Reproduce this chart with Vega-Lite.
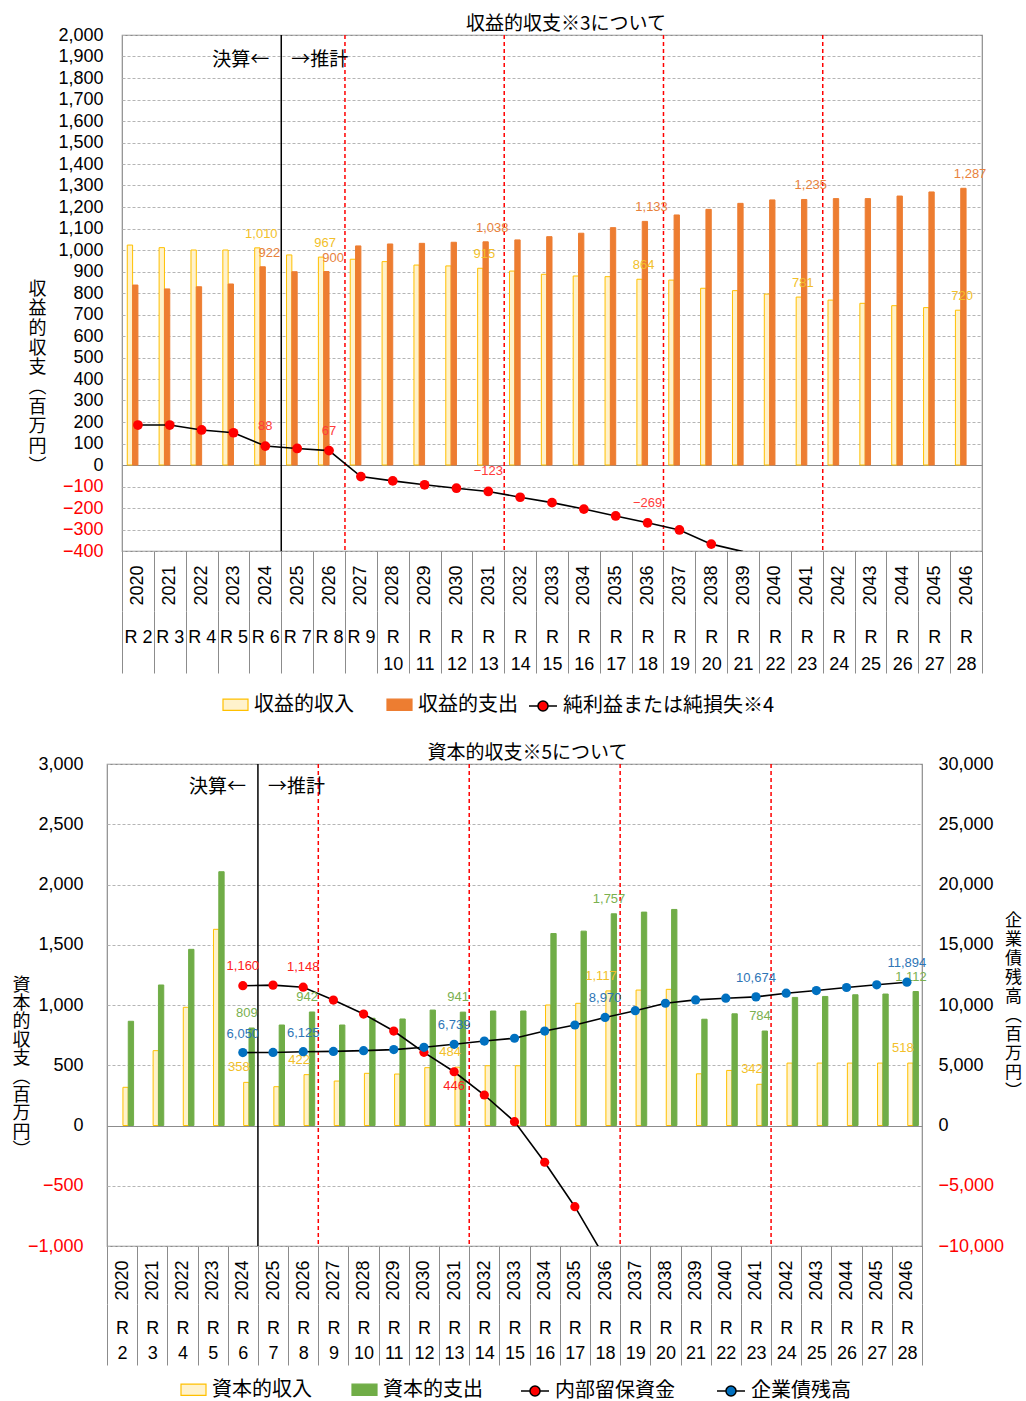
{
  "$schema": "https://vega.github.io/schema/vega-lite/v6.json",
  "background": "white",
  "padding": {"left": 11, "top": 14, "right": 0, "bottom": 0},
  "config": {
    "font": "Liberation Sans, Noto Sans CJK JP",
    "view": {"stroke": "#8c8c8c", "strokeWidth": 1.2},
    "axis": {"labelFont": "Liberation Sans, Noto Sans CJK JP", "titleFont": "Noto Sans CJK JP", "titleColor": "#000000", "titleFontWeight": "normal", "domainColor": "#8c8c8c", "tickColor": "#8c8c8c"},
    "legend": {"labelFont": "Noto Sans CJK JP", "labelFontSize": 20, "labelColor": "#000000", "labelLimit": 400},
    "title": {"font": "Noto Sans CJK JP", "fontSize": 19, "fontWeight": "normal", "color": "#000000"}
  },
  "resolve": {"scale": {"color": "independent", "stroke": "independent", "fill": "independent"}},
  "datasets": {
    "収益": [
      {"年度": 2020, "収益的収入": 1023, "収益的支出": 837, "純利益または純損失※4": 186},
      {"年度": 2021, "収益的収入": 1011, "収益的支出": 819, "純利益または純損失※4": 186},
      {"年度": 2022, "収益的収入": 1000, "収益的支出": 829, "純利益または純損失※4": 163},
      {"年度": 2023, "収益的収入": 1000, "収益的支出": 842, "純利益または純損失※4": 150},
      {"年度": 2024, "収益的収入": 1010, "収益的支出": 922, "純利益または純損失※4": 88},
      {"年度": 2025, "収益的収入": 977, "収益的支出": 899, "純利益または純損失※4": 77},
      {"年度": 2026, "収益的収入": 967, "収益的支出": 900, "純利益または純損失※4": 67},
      {"年度": 2027, "収益的収入": 957, "収益的支出": 1019, "純利益または純損失※4": -54},
      {"年度": 2028, "収益的収入": 946, "収益的支出": 1028, "純利益または純損失※4": -74},
      {"年度": 2029, "収益的収入": 930, "収益的支出": 1031, "純利益または純損失※4": -92},
      {"年度": 2030, "収益的収入": 926, "収益的支出": 1036, "純利益または純損失※4": -108},
      {"年度": 2031, "収益的収入": 915, "収益的支出": 1038, "純利益または純損失※4": -123},
      {"年度": 2032, "収益的収入": 902, "収益的支出": 1047, "純利益または純損失※4": -150},
      {"年度": 2033, "収益的収入": 887, "収益的支出": 1062, "純利益または純損失※4": -175},
      {"年度": 2034, "収益的収入": 879, "収益的支出": 1078, "純利益または純損失※4": -205},
      {"年度": 2035, "収益的収入": 876, "収益的支出": 1104, "純利益または純損失※4": -237},
      {"年度": 2036, "収益的収入": 864, "収益的支出": 1133, "純利益または純損失※4": -269},
      {"年度": 2037, "収益的収入": 860, "収益的支出": 1163, "純利益または純損失※4": -302},
      {"年度": 2038, "収益的収入": 822, "収益的支出": 1189, "純利益または純損失※4": -368},
      {"年度": 2039, "収益的収入": 811, "収益的支出": 1217, "純利益または純損失※4": -403},
      {"年度": 2040, "収益的収入": 795, "収益的支出": 1233, "純利益または純損失※4": null},
      {"年度": 2041, "収益的収入": 781, "収益的支出": 1235, "純利益または純損失※4": null},
      {"年度": 2042, "収益的収入": 767, "収益的支出": 1239, "純利益または純損失※4": null},
      {"年度": 2043, "収益的収入": 752, "収益的支出": 1239, "純利益または純損失※4": null},
      {"年度": 2044, "収益的収入": 741, "収益的支出": 1251, "純利益または純損失※4": null},
      {"年度": 2045, "収益的収入": 732, "収益的支出": 1270, "純利益または純損失※4": null},
      {"年度": 2046, "収益的収入": 720, "収益的支出": 1287, "純利益または純損失※4": null}
    ],
    "資本": [
      {"年度": 2020, "資本的収入": 317, "資本的支出": 865, "内部留保資金": null, "企業債残高": null},
      {"年度": 2021, "資本的収入": 621, "資本的支出": 1166, "内部留保資金": null, "企業債残高": null},
      {"年度": 2022, "資本的収入": 981, "資本的支出": 1462, "内部留保資金": null, "企業債残高": null},
      {"年度": 2023, "資本的収入": 1628, "資本的支出": 2106, "内部留保資金": null, "企業債残高": null},
      {"年度": 2024, "資本的収入": 358, "資本的支出": 809, "内部留保資金": 1160, "企業債残高": 6050},
      {"年度": 2025, "資本的収入": 322, "資本的支出": 834, "内部留保資金": 1165, "企業債残高": 6060},
      {"年度": 2026, "資本的収入": 422, "資本的支出": 942, "内部留保資金": 1148, "企業債残高": 6125},
      {"年度": 2027, "資本的収入": 369, "資本的支出": 834, "内部留保資金": 1041, "企業債残高": 6150},
      {"年度": 2028, "資本的収入": 433, "資本的支出": 890, "内部留保資金": 925, "企業債残高": 6210},
      {"年度": 2029, "資本的収入": 427, "資本的支出": 884, "内部留保資金": 784, "企業債残高": 6300},
      {"年度": 2030, "資本的収入": 480, "資本的支出": 958, "内部留保資金": 607, "企業債残高": 6490},
      {"年度": 2031, "資本的収入": 484, "資本的支出": 941, "内部留保資金": 446, "企業債残高": 6739},
      {"年度": 2032, "資本的収入": 496, "資本的支出": 950, "内部留保資金": 253, "企業債残高": 7010},
      {"年度": 2033, "資本的収入": 496, "資本的支出": 950, "内部留保資金": 32, "企業債残高": 7240},
      {"年度": 2034, "資本的収入": 1000, "資本的支出": 1593, "内部留保資金": -305, "企業債残高": 7840},
      {"年度": 2035, "資本的収入": 1014, "資本的支出": 1613, "内部留保資金": -674, "企業債残高": 8340},
      {"年度": 2036, "資本的収入": 1117, "資本的支出": 1757, "内部留保資金": -1100, "企業債残高": 8970},
      {"年度": 2037, "資本的収入": 1124, "資本的支出": 1771, "内部留保資金": null, "企業債残高": 9530},
      {"年度": 2038, "資本的収入": 1130, "資本的支出": 1793, "内部留保資金": null, "企業債残高": 10146},
      {"年度": 2039, "資本的収入": 429, "資本的支出": 882, "内部留保資金": null, "企業債残高": 10424},
      {"年度": 2040, "資本的収入": 457, "資本的支出": 927, "内部留保資金": null, "企業債残高": 10563},
      {"年度": 2041, "資本的収入": 342, "資本的支出": 784, "内部留保資金": null, "企業債残高": 10674},
      {"年度": 2042, "資本的収入": 518, "資本的支出": 1063, "内部留保資金": null, "企業債残高": 10980},
      {"年度": 2043, "資本的収入": 518, "資本的支出": 1071, "内部留保資金": null, "企業債残高": 11202},
      {"年度": 2044, "資本的収入": 518, "資本的支出": 1085, "内部留保資金": null, "企業債残高": 11452},
      {"年度": 2045, "資本的収入": 518, "資本的支出": 1091, "内部留保資金": null, "企業債残高": 11675},
      {"年度": 2046, "資本的収入": 518, "資本的支出": 1112, "内部留保資金": null, "企業債残高": 11894}
    ]
  },
  "align": "none",
  "spacing": 26,
  "vconcat": [
    {
      "align": "none",
      "spacing": -81,
      "resolve": {"scale": {"color": "independent", "stroke": "independent", "fill": "independent"}},
      "hconcat": [
        {
          "width": 1,
          "height": 10,
          "view": {"stroke": null},
          "data": {"values": []},
          "mark": {"type": "rule", "opacity": 0},
          "encoding": {}
        },
        {
          "title": {"text": "収益的収支※3について", "anchor": "middle", "frame": "group", "offset": -8, "dx": 14},
          "width": 860,
          "height": 516,
          "data": {"name": "収益"},
          "resolve": {"axis": {"x": "independent"}},
          "layer": [
            {
              "transform": [{"fold": ["収益的収入", "収益的支出"], "as": ["系列", "値"]}],
              "mark": {"type": "bar", "strokeWidth": 1},
              "encoding": {
                "x": {"field": "年度", "type": "ordinal", "scale": {"paddingInner": 0, "paddingOuter": 0},
                  "axis": {"title": null, "labelAngle": -90, "labelFontSize": 18, "labelPadding": -46, "tickSize": 60, "tickBand": "extent", "domain": false, "grid": false, "labelOverlap": false}},
                "xOffset": {"field": "系列", "type": "nominal", "scale": {"domain": ["収益的収入", "収益的支出"], "paddingInner": 0, "paddingOuter": 0.99}},
                "y": {"field": "値", "type": "quantitative", "scale": {"domain": [-400, 2000], "nice": false, "zero": false},
                  "axis": {"values": [-400, -300, -200, -100, 0, 100, 200, 300, 400, 500, 600, 700, 800, 900, 1000, 1100, 1200, 1300, 1400, 1500, 1600, 1700, 1800, 1900, 2000],
                    "tickCount": 30, "format": ",d", "labelFontSize": 18, "labelPadding": 19, "labelOverlap": false, "ticks": false, "domain": false, "grid": true,
                    "gridColor": {"condition": {"test": "datum.value === 0", "value": "#8c8c8c"}, "value": "#b5b5b5"},
                    "gridDash": {"condition": {"test": "datum.value === 0", "value": []}, "value": [3, 2]},
                    "labelColor": {"condition": {"test": "datum.value < 0", "value": "#FF0000"}, "value": "#000000"},
                    "title": ["収", "益", "的", "収", "支", "︵", "百", "万", "円", "︶"],
                    "titleAngle": 0, "titleAlign": "center", "titleBaseline": "middle", "titleX": -85, "titleY": 254, "titleFontSize": 18, "titleLineHeight": 19.7}},
                "color": {"field": "系列", "type": "nominal", "scale": {"domain": ["収益的収入", "収益的支出"], "range": ["#FFF2CC", "#ED7D31"]},
                  "legend": {"title": null, "orient": "none", "legendX": 100, "legendY": 656, "direction": "horizontal", "symbolType": "M-1,-0.45L1,-0.45L1,0.45L-1,0.45Z", "symbolSize": 625, "symbolStrokeWidth": 1.2, "symbolOpacity": 1, "labelFontSize": 20, "columnPadding": 30, "labelOffset": 5, "padding": 0}},
                "stroke": {"field": "系列", "type": "nominal", "scale": {"domain": ["収益的収入", "収益的支出"], "range": ["#FFC000", "#ED7D31"]},
                  "legend": {"title": null, "orient": "none", "legendX": 100, "legendY": 656, "direction": "horizontal", "symbolType": "M-1,-0.45L1,-0.45L1,0.45L-1,0.45Z", "symbolSize": 625, "symbolStrokeWidth": 1.2, "symbolOpacity": 1, "labelFontSize": 20, "columnPadding": 30, "labelOffset": 5, "padding": 0}}
              }
            },
            {
              "data": {"values": [{"年度": 2025}]},
              "mark": {"type": "rule", "color": "#000000", "strokeWidth": 1.5},
              "encoding": {
                "x": {"field": "年度", "type": "ordinal", "bandPosition": 0,
                  "axis": {"title": null, "orient": "bottom", "offset": 60, "domain": false, "tickSize": 62, "tickBand": "extent", "labelAngle": 0, "labelAlign": "center", "labelBaseline": "top", "labelPadding": -45, "labelLineHeight": 27, "labelFontSize": 18, "labelOverlap": false, "labelBound": false, "grid": false,
                    "labelExpr": "isNumber(datum.value) ? (datum.value < 2028 ? 'R ' + (datum.value - 2018) : ['R', '' + (datum.value - 2018)]) : ''"}}
              }
            },
            {
              "data": {"values": [{"年度": 2027}, {"年度": 2032}, {"年度": 2037}, {"年度": 2042}]},
              "mark": {"type": "rule", "color": "#FF0000", "strokeWidth": 1.5, "strokeDash": [4, 3]},
              "encoding": {"x": {"field": "年度", "type": "ordinal", "bandPosition": 0, "axis": null}}
            },
            {
              "data": {"values": [{"年度": 2025, "注記": "決算←"}]},
              "mark": {"type": "text", "align": "right", "baseline": "middle", "dx": -12, "font": "Noto Sans CJK JP", "fontSize": 19, "color": "#000000"},
              "encoding": {"x": {"field": "年度", "type": "ordinal", "bandPosition": 0, "axis": null}, "y": {"datum": 1884, "type": "quantitative"}, "text": {"field": "注記"}}
            },
            {
              "data": {"values": [{"年度": 2025, "注記": "→推計"}]},
              "mark": {"type": "text", "align": "left", "baseline": "middle", "dx": 10, "font": "Noto Sans CJK JP", "fontSize": 19, "color": "#000000"},
              "encoding": {"x": {"field": "年度", "type": "ordinal", "bandPosition": 0, "axis": null}, "y": {"datum": 1884, "type": "quantitative"}, "text": {"field": "注記"}}
            },
            {
              "transform": [{"fold": ["純利益または純損失※4"], "as": ["系列2", "値2"]}, {"filter": {"field": "値2", "valid": true}}],
              "mark": {"type": "line", "color": "#000000", "strokeWidth": 1.6, "clip": true},
              "encoding": {"x": {"field": "年度", "type": "ordinal", "axis": null}, "y": {"field": "値2", "type": "quantitative"}}
            },
            {
              "transform": [{"fold": ["純利益または純損失※4"], "as": ["系列2", "値2"]}, {"filter": {"field": "値2", "valid": true}}, {"filter": {"field": "値2", "gte": -400}}],
              "mark": {"type": "circle", "size": 95, "opacity": 1},
              "encoding": {
                "x": {"field": "年度", "type": "ordinal", "axis": null},
                "y": {"field": "値2", "type": "quantitative"},
                "fill": {"field": "系列2", "type": "nominal", "scale": {"domain": ["純利益または純損失※4"], "range": ["#FF0000"]},
                  "legend": {"title": null, "orient": "none", "legendX": 406, "legendY": 656, "symbolType": "M-1,0L-0.36,0M0.36,0L1,0M0.36,0A0.36,0.36,0,1,1,-0.36,0A0.36,0.36,0,1,1,0.36,0Z", "symbolSize": 784, "symbolStrokeColor": "#000000", "symbolStrokeWidth": 1.5, "symbolOpacity": 1, "labelFontSize": 20, "labelOffset": 5, "labelLimit": 400, "padding": 0}}
              }
            },
            {
              "transform": [{"filter": {"field": "年度", "oneOf": [2024, 2026, 2031, 2036, 2041, 2046]}}],
              "mark": {"type": "text", "baseline": "bottom", "dx": -4, "dy": -7, "fontSize": 13, "font": "Liberation Sans", "color": "#F2BF2A"},
              "encoding": {"x": {"field": "年度", "type": "ordinal", "axis": null}, "y": {"field": "収益的収入", "type": "quantitative"}, "text": {"field": "収益的収入", "type": "quantitative", "format": ",d"}}
            },
            {
              "transform": [{"filter": {"field": "年度", "oneOf": [2024, 2026, 2031, 2036, 2041, 2046]}}],
              "mark": {"type": "text", "baseline": "bottom", "dx": 4, "dy": -7, "fontSize": 13, "font": "Liberation Sans", "color": "#E8823C"},
              "encoding": {"x": {"field": "年度", "type": "ordinal", "axis": null}, "y": {"field": "収益的支出", "type": "quantitative"}, "text": {"field": "収益的支出", "type": "quantitative", "format": ",d"}}
            },
            {
              "transform": [{"filter": {"field": "年度", "oneOf": [2024, 2026, 2031, 2036]}}],
              "mark": {"type": "text", "baseline": "bottom", "dy": -13, "fontSize": 13, "font": "Liberation Sans", "color": "#FF3B3B"},
              "encoding": {"x": {"field": "年度", "type": "ordinal", "axis": null}, "y": {"field": "純利益または純損失※4", "type": "quantitative"}, "text": {"field": "純利益または純損失※4", "type": "quantitative", "format": ",d"}}
            }
          ]
        }
      ]
    },
    {
      "resolve": {"scale": {"color": "independent", "stroke": "independent", "fill": "independent"}},
      "hconcat": [
        {
          "title": {"text": "資本的収支※5について", "anchor": "middle", "frame": "group", "offset": -8, "dx": 13},
          "width": 815,
          "height": 482,
          "data": {"name": "資本"},
          "resolve": {"scale": {"y": "independent"}, "axis": {"x": "independent"}},
          "layer": [
            {
              "layer": [
                {
                  "transform": [{"fold": ["資本的収入", "資本的支出"], "as": ["系列", "値"]}],
                  "mark": {"type": "bar", "strokeWidth": 1},
                  "encoding": {
                    "x": {"field": "年度", "type": "ordinal", "scale": {"paddingInner": 0, "paddingOuter": 0},
                      "axis": {"title": null, "labelAngle": -90, "labelFontSize": 18, "labelPadding": -44, "tickSize": 58, "tickBand": "extent", "domain": false, "grid": false, "labelOverlap": false}},
                    "xOffset": {"field": "系列", "type": "nominal", "scale": {"domain": ["資本的収入", "資本的支出"], "paddingInner": 0, "paddingOuter": 0.85}},
                    "y": {"field": "値", "type": "quantitative", "scale": {"domain": [-1000, 3000], "nice": false, "zero": false},
                      "axis": {"values": [-1000, -500, 0, 500, 1000, 1500, 2000, 2500, 3000],
                        "tickCount": 12, "format": ",d", "labelFontSize": 18, "labelPadding": 24, "labelOverlap": false, "ticks": false, "domain": false, "grid": true,
                        "gridColor": {"condition": {"test": "datum.value === 0", "value": "#8c8c8c"}, "value": "#b5b5b5"},
                        "gridDash": {"condition": {"test": "datum.value === 0", "value": []}, "value": [3, 2]},
                        "labelColor": {"condition": {"test": "datum.value < 0", "value": "#FF0000"}, "value": "#000000"},
                        "title": ["資", "本", "的", "収", "支", "︵", "百", "万", "円", "︶"],
                        "titleAngle": 0, "titleAlign": "center", "titleBaseline": "middle", "titleX": -86, "titleY": 221, "titleFontSize": 18, "titleLineHeight": 18.4}},
                    "color": {"field": "系列", "type": "nominal", "scale": {"domain": ["資本的収入", "資本的支出"], "range": ["#FFF2CC", "#70AD47"]},
                      "legend": {"title": null, "orient": "none", "legendX": 73, "legendY": 612, "direction": "horizontal", "symbolType": "M-1,-0.45L1,-0.45L1,0.45L-1,0.45Z", "symbolSize": 625, "symbolStrokeWidth": 1.2, "symbolOpacity": 1, "labelFontSize": 20, "columnPadding": 37, "labelOffset": 5, "padding": 0}},
                    "stroke": {"field": "系列", "type": "nominal", "scale": {"domain": ["資本的収入", "資本的支出"], "range": ["#FFC000", "#70AD47"]},
                      "legend": {"title": null, "orient": "none", "legendX": 73, "legendY": 612, "direction": "horizontal", "symbolType": "M-1,-0.45L1,-0.45L1,0.45L-1,0.45Z", "symbolSize": 625, "symbolStrokeWidth": 1.2, "symbolOpacity": 1, "labelFontSize": 20, "columnPadding": 37, "labelOffset": 5, "padding": 0}}
                  }
                },
                {
                  "data": {"values": [{"年度": 2025}]},
                  "mark": {"type": "rule", "color": "#000000", "strokeWidth": 1.5},
                  "encoding": {"x": {"field": "年度", "type": "ordinal", "bandPosition": 0}}
                },
                {
                  "data": {"values": [{"年度": 2027}, {"年度": 2032}, {"年度": 2037}, {"年度": 2042}]},
                  "mark": {"type": "rule", "color": "#FF0000", "strokeWidth": 1.5, "strokeDash": [4, 3]},
                  "encoding": {"x": {"field": "年度", "type": "ordinal", "bandPosition": 0}}
                },
                {
                  "data": {"values": [{"年度": 2025, "注記": "決算←"}]},
                  "mark": {"type": "text", "align": "right", "baseline": "middle", "dx": -12, "font": "Noto Sans CJK JP", "fontSize": 19, "color": "#000000"},
                  "encoding": {"x": {"field": "年度", "type": "ordinal", "bandPosition": 0}, "y": {"datum": 2809, "type": "quantitative"}, "text": {"field": "注記"}}
                },
                {
                  "data": {"values": [{"年度": 2025, "注記": "→推計"}]},
                  "mark": {"type": "text", "align": "left", "baseline": "middle", "dx": 10, "font": "Noto Sans CJK JP", "fontSize": 19, "color": "#000000"},
                  "encoding": {"x": {"field": "年度", "type": "ordinal", "bandPosition": 0}, "y": {"datum": 2809, "type": "quantitative"}, "text": {"field": "注記"}}
                },
                {
                  "transform": [{"fold": ["内部留保資金"], "as": ["系列2", "値2"]}, {"filter": {"field": "値2", "valid": true}}],
                  "mark": {"type": "line", "color": "#000000", "strokeWidth": 1.6, "clip": true},
                  "encoding": {"x": {"field": "年度", "type": "ordinal"}, "y": {"field": "値2", "type": "quantitative"}}
                },
                {
                  "transform": [{"fold": ["内部留保資金"], "as": ["系列2", "値2"]}, {"filter": {"field": "値2", "valid": true}}, {"filter": {"field": "値2", "gte": -1000}}],
                  "mark": {"type": "circle", "size": 85, "opacity": 1},
                  "encoding": {
                    "x": {"field": "年度", "type": "ordinal"},
                    "y": {"field": "値2", "type": "quantitative"},
                    "fill": {"field": "系列2", "type": "nominal", "scale": {"domain": ["内部留保資金", "企業債残高"], "range": ["#FF0000", "#0070C0"]},
                      "legend": {"title": null, "orient": "none", "legendX": 413, "legendY": 612, "direction": "horizontal", "symbolType": "M-1,0L-0.36,0M0.36,0L1,0M0.36,0A0.36,0.36,0,1,1,-0.36,0A0.36,0.36,0,1,1,0.36,0Z", "symbolSize": 784, "symbolStrokeColor": "#000000", "symbolStrokeWidth": 1.5, "symbolOpacity": 1, "labelFontSize": 20, "columnPadding": 39, "labelOffset": 5, "padding": 0}}
                  }
                },
                {
                  "transform": [{"filter": {"field": "年度", "oneOf": [2024, 2026, 2031, 2036, 2041, 2046]}}],
                  "mark": {"type": "text", "baseline": "bottom", "dx": -4, "dy": -8, "fontSize": 13, "font": "Liberation Sans", "color": "#F2BF2A"},
                  "encoding": {"x": {"field": "年度", "type": "ordinal"}, "y": {"field": "資本的収入", "type": "quantitative"}, "text": {"field": "資本的収入", "type": "quantitative", "format": ",d"}}
                },
                {
                  "transform": [{"filter": {"field": "年度", "oneOf": [2024, 2026, 2031, 2036, 2041, 2046]}}],
                  "mark": {"type": "text", "baseline": "bottom", "dx": 4, "dy": -8, "fontSize": 13, "font": "Liberation Sans", "color": "#7AB04F"},
                  "encoding": {"x": {"field": "年度", "type": "ordinal"}, "y": {"field": "資本的支出", "type": "quantitative"}, "text": {"field": "資本的支出", "type": "quantitative", "format": ",d"}}
                },
                {
                  "transform": [{"filter": {"field": "年度", "oneOf": [2024, 2026]}}],
                  "mark": {"type": "text", "baseline": "bottom", "dy": -13, "fontSize": 13, "font": "Liberation Sans", "color": "#FF2020"},
                  "encoding": {"x": {"field": "年度", "type": "ordinal"}, "y": {"field": "内部留保資金", "type": "quantitative"}, "text": {"field": "内部留保資金", "type": "quantitative", "format": ",d"}}
                },
                {
                  "transform": [{"filter": {"field": "年度", "oneOf": [2031]}}],
                  "mark": {"type": "text", "baseline": "top", "dy": 8, "fontSize": 13, "font": "Liberation Sans", "color": "#FF2020"},
                  "encoding": {"x": {"field": "年度", "type": "ordinal"}, "y": {"field": "内部留保資金", "type": "quantitative"}, "text": {"field": "内部留保資金", "type": "quantitative", "format": ",d"}}
                }
              ]
            },
            {
              "layer": [
                {
                  "transform": [{"fold": ["企業債残高"], "as": ["系列2", "値2"]}, {"filter": {"field": "値2", "valid": true}}],
                  "mark": {"type": "line", "color": "#000000", "strokeWidth": 1.6, "clip": true},
                  "encoding": {
                    "x": {"field": "年度", "type": "ordinal",
                      "axis": {"title": null, "orient": "bottom", "offset": 58, "domain": false, "tickSize": 61, "tickBand": "extent", "labelAngle": 0, "labelAlign": "center", "labelBaseline": "top", "labelPadding": -46, "labelLineHeight": 25, "labelFontSize": 18, "labelOverlap": false, "labelBound": false, "grid": false,
                        "labelExpr": "isNumber(datum.value) ? ['R', '' + (datum.value - 2018)] : ''"}},
                    "y": {"field": "値2", "type": "quantitative", "scale": {"domain": [-10000, 30000], "nice": false, "zero": false},
                      "axis": {"orient": "right", "values": [-10000, -5000, 0, 5000, 10000, 15000, 20000, 25000, 30000], "tickCount": 12, "format": ",d", "labelFontSize": 18, "labelPadding": 16, "labelOverlap": false, "ticks": false, "domain": false, "grid": false,
                        "labelColor": {"condition": {"test": "datum.value < 0", "value": "#FF0000"}, "value": "#000000"},
                        "title": ["企", "業", "債", "残", "高", "︵", "百", "万", "円", "︶"],
                        "titleAngle": 0, "titleAlign": "center", "titleBaseline": "middle", "titleX": 91, "titleY": 156, "titleFontSize": 17, "titleLineHeight": 19}}
                  }
                },
                {
                  "transform": [{"fold": ["企業債残高"], "as": ["系列2", "値2"]}, {"filter": {"field": "値2", "valid": true}}],
                  "mark": {"type": "circle", "size": 85, "opacity": 1},
                  "encoding": {
                    "x": {"field": "年度", "type": "ordinal"},
                    "y": {"field": "値2", "type": "quantitative"},
                    "fill": {"field": "系列2", "type": "nominal", "scale": {"domain": ["内部留保資金", "企業債残高"], "range": ["#FF0000", "#0070C0"]},
                      "legend": {"title": null, "orient": "none", "legendX": 413, "legendY": 612, "direction": "horizontal", "symbolType": "M-1,0L-0.36,0M0.36,0L1,0M0.36,0A0.36,0.36,0,1,1,-0.36,0A0.36,0.36,0,1,1,0.36,0Z", "symbolSize": 784, "symbolStrokeColor": "#000000", "symbolStrokeWidth": 1.5, "symbolOpacity": 1, "labelFontSize": 20, "columnPadding": 39, "labelOffset": 5, "padding": 0}}
                  }
                },
                {
                  "transform": [{"filter": {"field": "年度", "oneOf": [2024, 2026, 2031, 2036, 2041, 2046]}}],
                  "mark": {"type": "text", "baseline": "bottom", "dy": -12, "fontSize": 13, "font": "Liberation Sans", "color": "#2E75B6"},
                  "encoding": {"x": {"field": "年度", "type": "ordinal"}, "y": {"field": "企業債残高", "type": "quantitative"}, "text": {"field": "企業債残高", "type": "quantitative", "format": ",d"}}
                }
              ]
            }
          ]
        }
      ]
    }
  ]
}
